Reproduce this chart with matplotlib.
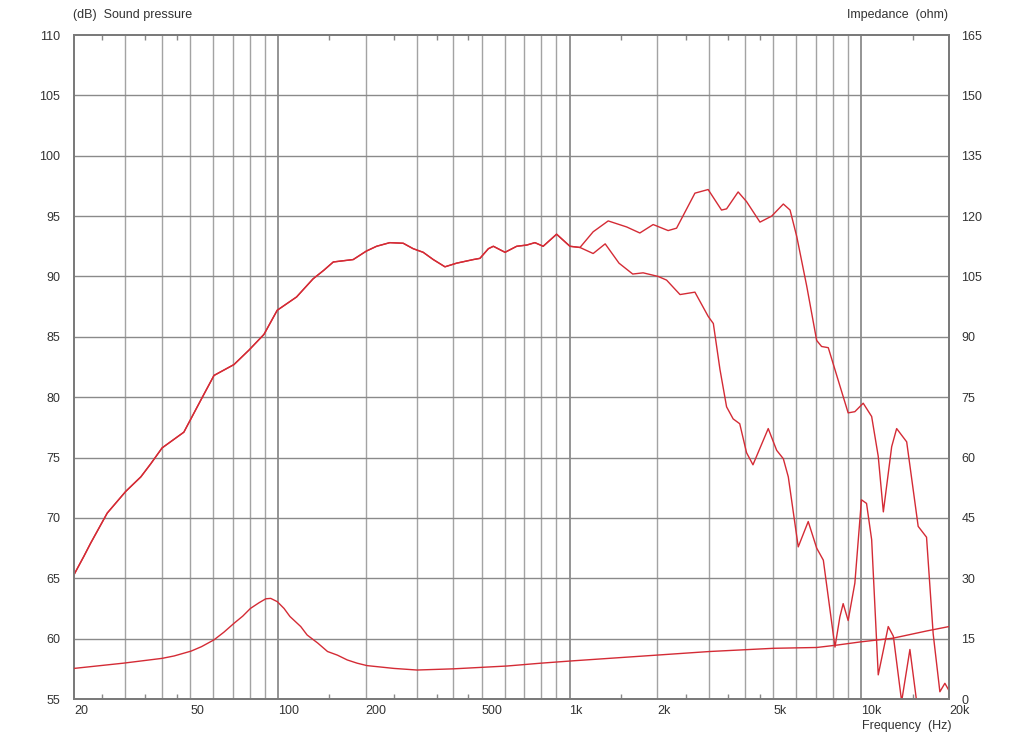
import matplotlib
matplotlib.use("Agg")
import matplotlib.pyplot as plt

# ---------------- data ----------------
# common part of both SPL curves (Hz, dB)
spl_common_f = [20, 21.6, 22.8, 26.0, 30.1, 33.9, 36.7, 40.1, 47.6, 55.1, 60.4, 70.7, 79.6, 89.6, 99.5,
                115.9, 132, 143.5, 154.9, 181.3, 201, 218, 242, 269, 291, 315, 341, 374,
                410, 468, 493, 527, 548, 601, 659, 713, 761, 812, 903, 1003, 1086]
spl_common_db = [65.3, 66.8, 67.9, 70.4, 72.2, 73.4, 74.5, 75.8, 77.1, 80.0, 81.8, 82.7, 83.9, 85.2, 87.2,
                 88.3, 89.8, 90.5, 91.2, 91.4, 92.1, 92.5, 92.8, 92.75, 92.3, 92.0, 91.4, 90.8,
                 91.1, 91.4, 91.5, 92.3, 92.5, 92.0, 92.5, 92.6, 92.8, 92.5, 93.5, 92.5, 92.4]

# on-axis high part
spl_on_f = [1205, 1357, 1570, 1742, 1935, 2178, 2328, 2691, 2987, 3320, 3455, 3785,
            4045, 4497, 4933, 5408, 5703, 6013, 6505, 7036, 7314, 7712, 8340, 9021,
            9512, 10160, 10860, 11440, 11910, 12720, 13230, 14320, 15680, 16750,
            17650, 18610, 19360, 20000]
spl_on_db = [93.7, 94.6, 94.1, 93.6, 94.3, 93.8, 94.0, 96.9, 97.2, 95.5, 95.6, 97.0,
             96.2, 94.5, 95.0, 96.0, 95.5, 93.3, 89.2, 84.7, 84.2, 84.1, 81.4, 78.7,
             78.8, 79.5, 78.4, 75.1, 70.5, 75.9, 77.4, 76.3, 69.3, 68.4,
             60.4, 55.6, 56.3, 55.7]

# off-axis high part
spl_off_f = [1205, 1325, 1478, 1647, 1788, 2014, 2151, 2392, 2691, 2987, 3112, 3279,
             3455, 3639, 3833, 4045, 4255, 4800, 5130, 5408, 5624, 6083, 6582, 7036,
             7416, 8130, 8450, 8673, 9021, 9512, 10020, 10430, 10860, 11440, 12380,
             12890, 13760, 14690, 15490, 16500, 20000]
spl_off_db = [91.9, 92.7, 91.1, 90.2, 90.3, 90.0, 89.7, 88.5, 88.7, 86.7, 86.1, 82.3,
              79.2, 78.2, 77.8, 75.4, 74.4, 77.4, 75.6, 74.9, 73.4, 67.6, 69.7, 67.5,
              66.5, 59.3, 61.8, 62.9, 61.5, 64.6, 71.5, 71.2, 68.2, 57.0, 61.0,
              60.2, 54.8, 59.1, 54.8, 52.0, 52.0]

# impedance (Hz, ohm)
imp_f = [20, 29.5, 40.1, 44.1, 50.4, 54.7, 60.4, 65.3, 70.7, 75.8, 80.5, 86.1, 90.9, 94.5,
         99.5, 105, 110, 119.8, 126, 137, 148, 160, 173, 187, 202, 250, 300, 401, 611, 797,
         1033, 1987, 3019, 5005, 7036, 8265, 9969, 12830, 16750, 20000]
imp_ohm = [7.6, 8.9, 10.1, 10.7, 11.9, 13.0, 14.7, 16.6, 18.8, 20.6, 22.5, 23.9, 24.9, 25.0,
           24.2, 22.5, 20.5, 18.0, 15.9, 13.9, 11.8, 10.9, 9.7, 8.9, 8.3, 7.6, 7.2, 7.5, 8.2, 8.9,
           9.5, 10.9, 11.8, 12.6, 12.8, 13.4, 14.2, 15.1, 16.9, 18.0]

xtick_vals = [20, 50, 100, 200, 500, 1000, 2000, 5000, 10000, 20000]
xtick_labels = ["20", "50", "100", "200", "500", "1k", "2k", "5k", "10k", "20k"]
grid_freqs = [30, 40, 50, 60, 70, 80, 90, 200, 300, 400, 500, 600, 700, 800, 900,
              2000, 3000, 4000, 5000, 6000, 7000, 8000, 9000]
decade_freqs = [100, 1000, 10000]
half_ticks = [25, 35, 45, 150, 250, 350, 450, 1500, 2500, 3500, 4500, 15000]
db_ticks = list(range(55, 111, 5))
ohm_ticks = list(range(0, 166, 15))

# ---------------- plot ----------------
plt.rcParams['font.family'] = ['Liberation Sans', 'DejaVu Sans']
W, H = 1024, 739
fig = plt.figure(figsize=(W / 100, H / 100), dpi=100)
ax = fig.add_axes([74 / W, 1 - 699 / H, 875 / W, 664 / H])
ax.set_xscale('log')
ax.set_xlim(20, 20000)
ax.set_ylim(55, 110)

txt = '#333333'
gridc = '#a3a3a3'
red = '#d42b35'
fs = 9

for f in grid_freqs:
    ax.axvline(f, color=gridc, lw=1.0, zorder=1)
for f in decade_freqs:
    ax.axvline(f, color='#777777', lw=1.1, zorder=1)
for d in db_ticks[1:-1]:
    ax.axhline(d, color='#8a8a8a', lw=1.0, zorder=1)

tr = ax.get_xaxis_transform()
ax.vlines(half_ticks, 0, 0.008, transform=tr, color='#888888', lw=1.0, zorder=2)
ax.vlines(half_ticks, 0.992, 1, transform=tr, color='#888888', lw=1.0, zorder=2)

ax.plot(spl_common_f + spl_on_f, spl_common_db + spl_on_db, color=red, lw=1.0, zorder=3)
ax.plot(spl_common_f + spl_off_f, spl_common_db + spl_off_db, color=red, lw=1.0, zorder=3)

ax.set_xticks(xtick_vals)
ax.set_xticklabels(xtick_labels)
ax.xaxis.set_minor_locator(matplotlib.ticker.NullLocator())
ax.tick_params(axis='x', length=0, pad=4, labelsize=fs, labelcolor=txt)
for lab in ax.get_xticklabels():
    lab.set_horizontalalignment('left')
ax.set_yticks(db_ticks)
ax.tick_params(axis='y', length=0, pad=10, labelsize=fs, labelcolor=txt)

ax2 = ax.twinx()
ax2.set_ylim(0, 165)
ax2.set_yticks(ohm_ticks)
ax2.tick_params(axis='y', length=0, pad=9, labelsize=fs, labelcolor=txt)
ax2.plot(imp_f, imp_ohm, color=red, lw=1.0, zorder=3)

for a in (ax, ax2):
    for s in a.spines.values():
        s.set_color('#7a7a7a')
        s.set_linewidth(1.3)

fig.text(73 / W, 1 - 15 / H, '(dB)  Sound pressure', ha='left', va='center',
         fontsize=fs, color=txt)
fig.text(948 / W, 1 - 15 / H, 'Impedance  (ohm)', ha='right', va='center',
         fontsize=fs, color=txt)
fig.text(952 / W, 1 - 726 / H, 'Frequency  (Hz)', ha='right', va='center',
         fontsize=fs, color=txt)

fig.savefig('out.png', dpi=100, facecolor='white')
